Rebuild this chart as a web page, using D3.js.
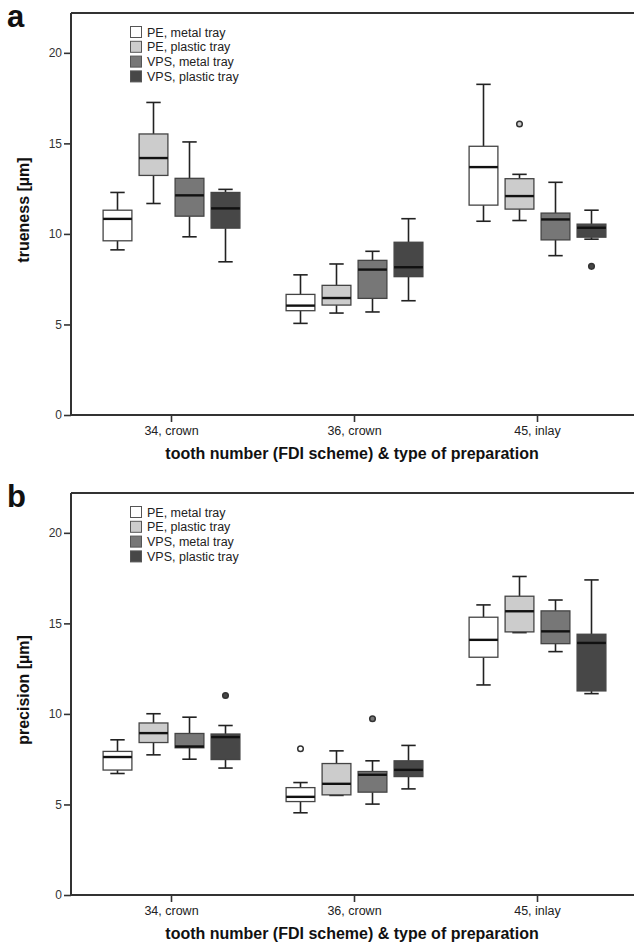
<!DOCTYPE html>
<html><head><meta charset="utf-8">
<script src="https://cdn.jsdelivr.net/npm/d3@7"></script>
<style>body{margin:0;background:#fff}svg{display:block;font-family:"Liberation Sans",Arial,Helvetica,sans-serif}</style>
</head><body>
<svg id="chart" width="634" height="942"></svg>
<script>
// ---- data ----
const categories = ["34, crown", "36, crown", "45, inlay"];
const series = ["PE, metal tray", "PE, plastic tray", "VPS, metal tray", "VPS, plastic tray"];
const seriesColors = ["#ffffff", "#cccccc", "#777777", "#474747"];
const yTicks = [0, 5, 10, 15, 20];

// each entry: [lower whisker, Q1, median, Q3, upper whisker], one per category
const truenessPEmetal    = [[9.12, 9.62, 10.83, 11.31, 12.29], [5.06, 5.76, 6.04, 6.66, 7.74], [10.70, 11.59, 13.69, 14.84, 18.26]];
const truenessPEplastic  = [[11.68, 13.23, 14.19, 15.52, 17.26], [5.63, 6.07, 6.46, 7.16, 8.34], [10.74, 11.37, 12.09, 13.05, 13.29]];
const truenessVPSmetal   = [[9.84, 10.98, 12.13, 13.07, 15.08], [5.69, 6.44, 8.03, 8.54, 9.04], [8.80, 9.67, 10.80, 11.15, 12.85]];
const truenessVPSplastic = [[8.46, 10.32, 11.41, 12.29, 12.46], [6.31, 7.64, 8.16, 9.54, 10.84], [9.71, 9.82, 10.34, 10.54, 11.31]];
const truenessOutliers = [["45, inlay", "PE, plastic tray", 16.07], ["45, inlay", "VPS, plastic tray", 8.21]];

const precisionPEmetal    = [[6.71, 6.90, 7.62, 7.93, 8.57], [4.54, 5.16, 5.42, 5.93, 6.21], [11.60, 13.13, 14.09, 15.34, 16.02]];
const precisionPEplastic  = [[7.74, 8.42, 8.94, 9.50, 10.01], [5.50, 5.53, 6.14, 7.26, 7.96], [14.49, 14.53, 15.67, 16.50, 17.59]];
const precisionVPSmetal   = [[7.50, 8.13, 8.20, 8.92, 9.82], [5.02, 5.68, 6.64, 6.82, 7.41], [13.44, 13.88, 14.56, 15.69, 16.29]];
const precisionVPSplastic = [[7.01, 7.48, 8.72, 8.89, 9.36], [5.86, 6.54, 6.91, 7.41, 8.26], [11.12, 11.27, 13.92, 14.40, 17.40]];
const precisionOutliers = [["34, crown", "VPS, plastic tray", 11.02], ["36, crown", "PE, metal tray", 8.08], ["36, crown", "VPS, metal tray", 9.73]];

const xTitle = "tooth number (FDI scheme) & type of preparation";

// ---- drawing ----
const W = 634;
const svg = d3.select("#chart");
const left = 71;

const panels = [
  { letter: "a", yLabel: "trueness [\u00b5m]", top: 13, bottom: 415,
    data: [truenessPEmetal, truenessPEplastic, truenessVPSmetal, truenessVPSplastic], outliers: truenessOutliers },
  { letter: "b", yLabel: "precision [\u00b5m]", top: 493, bottom: 895,
    data: [precisionPEmetal, precisionPEplastic, precisionVPSmetal, precisionVPSplastic], outliers: precisionOutliers }
];

const x = d3.scaleBand().domain(categories).range([80, 629]);
const xs = d3.scaleBand().domain(series).range([-72, 72]).paddingInner(0.2).paddingOuter(0.1);
const color = d3.scaleOrdinal().domain(series).range(seriesColors);
const bw = xs.bandwidth();
const cx = (c, s) => x(c) + x.bandwidth() / 2 + xs(s) + bw / 2;

panels.forEach(p => {
  const g = svg.append("g");
  const y = d3.scaleLinear().domain([0, 22.2]).range([p.bottom, p.top]);

  // frame top line
  g.append("line").attr("x1", left).attr("x2", W).attr("y1", p.top).attr("y2", p.top)
    .attr("stroke", "#333").attr("stroke-width", 2);

  // y axis
  const ya = g.append("g").attr("transform", `translate(${left},0)`)
    .call(d3.axisLeft(y).tickValues(yTicks).tickSize(7).tickPadding(2).tickFormat(d3.format("d")));
  ya.select(".domain").attr("d", `M0,${p.top}V${p.bottom}`).attr("stroke", "#333").attr("stroke-width", 2);
  ya.selectAll(".tick line").attr("stroke", "#333").attr("stroke-width", 1.6);
  ya.selectAll(".tick text").attr("font-size", 12).attr("fill", "#333").attr("font-family", "Liberation Sans, Arial, sans-serif");

  // x axis
  const xa = g.append("g").attr("transform", `translate(0,${p.bottom})`)
    .call(d3.axisBottom(x).tickSize(7).tickPadding(4));
  xa.select(".domain").attr("d", `M${left},0H${W}`).attr("stroke", "#333").attr("stroke-width", 2);
  xa.selectAll(".tick line").attr("stroke", "#333").attr("stroke-width", 1.6);
  xa.selectAll(".tick text").attr("font-size", 12.5).attr("fill", "#222").attr("font-family", "Liberation Sans, Arial, sans-serif");

  // axis titles
  g.append("text").attr("x", 352).attr("y", p.bottom + 44).attr("text-anchor", "middle")
    .attr("font-size", 16).attr("font-weight", "bold").attr("fill", "#111").text(xTitle);
  g.append("text").attr("transform", `translate(29,${(p.top + p.bottom) / 2 - 4}) rotate(-90)`)
    .attr("text-anchor", "middle").attr("font-size", 16).attr("font-weight", "bold").attr("fill", "#111").text(p.yLabel);

  // panel letter
  g.append("text").attr("x", 7).attr("y", p.top + 14).attr("font-size", 31).attr("font-weight", "bold")
    .attr("fill", "#111").text(p.letter);

  // boxes
  series.forEach((s, si) => {
    categories.forEach((c, ci) => {
      const [lo, q1, med, q3, hi] = p.data[si][ci];
      const xc = cx(c, s);
      const bg = g.append("g");
      // whiskers
      bg.append("line").attr("x1", xc).attr("x2", xc).attr("y1", y(hi)).attr("y2", y(q3))
        .attr("stroke", "#222").attr("stroke-width", 1.6);
      bg.append("line").attr("x1", xc).attr("x2", xc).attr("y1", y(q1)).attr("y2", y(lo))
        .attr("stroke", "#222").attr("stroke-width", 1.6);
      [hi, lo].forEach(v => bg.append("line").attr("x1", xc - bw / 4).attr("x2", xc + bw / 4)
        .attr("y1", y(v)).attr("y2", y(v)).attr("stroke", "#222").attr("stroke-width", 1.6));
      // box
      bg.append("rect").attr("x", xc - bw / 2).attr("width", bw).attr("y", y(q3)).attr("height", y(q1) - y(q3))
        .attr("fill", color(s)).attr("stroke", "#444").attr("stroke-width", 1.3);
      // median
      bg.append("line").attr("x1", xc - bw / 2).attr("x2", xc + bw / 2).attr("y1", y(med)).attr("y2", y(med))
        .attr("stroke", "#111").attr("stroke-width", 2.4);
    });
  });

  // outliers
  p.outliers.forEach(([c, s, v]) => {
    g.append("circle").attr("cx", cx(c, s)).attr("cy", y(v)).attr("r", 2.8)
      .attr("fill", color(s)).attr("stroke", "#333").attr("stroke-width", 1.5);
  });

  // legend
  const lg = g.append("g").attr("transform", `translate(130,${p.top + 13})`);
  series.forEach((s, i) => {
    const row = lg.append("g").attr("transform", `translate(0,${i * 14.8})`);
    row.append("rect").attr("x", 0.5).attr("y", 0.5).attr("width", 11).attr("height", 11)
      .attr("fill", color(s)).attr("stroke", "#555").attr("stroke-width", 1);
    row.append("text").attr("x", 17).attr("y", 10.5).attr("font-size", 12.5).attr("fill", "#222").text(s);
  });
});
</script>
</body></html>
